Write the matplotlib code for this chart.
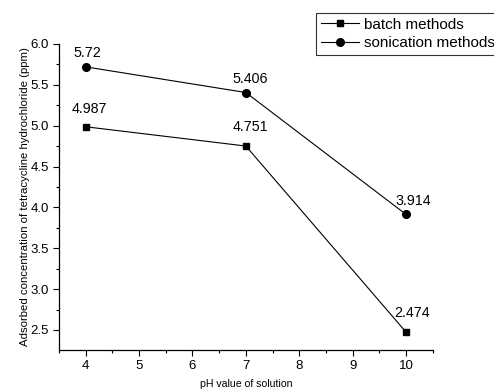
import matplotlib
matplotlib.use("Agg")
import matplotlib.pyplot as plt
from matplotlib.ticker import MultipleLocator

plt.rcParams["font.family"] = ["Liberation Sans", "DejaVu Sans"]

ph = [4, 7, 10]
batch = [4.987, 4.751, 2.474]
sonication = [5.72, 5.406, 3.914]
batch_labels = ["4.987", "4.751", "2.474"]
sonication_labels = ["5.72", "5.406", "3.914"]

fig = plt.figure(figsize=(4.94, 3.92), dpi=100)
ax = fig.add_axes([0.1194, 0.1071, 0.876 - 0.1194, 0.8878 - 0.1071])

ax.plot(ph, batch, color="black", lw=0.8, marker="s", ms=5, label="batch methods")
ax.plot(ph, sonication, color="black", lw=0.8, marker="o", ms=5.5, label="sonication methods")

# label offsets in points (dx, dy)
b_off = [(3, 8), (3, 9), (4, 9)]
s_off = [(1, 5), (3, 5), (5, 5)]
for x, y, t, o in zip(ph, batch, batch_labels, b_off):
    ax.annotate(t, (x, y), xytext=o, textcoords="offset points",
                ha="center", va="bottom", fontsize=10.3)
for x, y, t, o in zip(ph, sonication, sonication_labels, s_off):
    ax.annotate(t, (x, y), xytext=o, textcoords="offset points",
                ha="center", va="bottom", fontsize=10.3)

ax.set_xlim(3.5, 10.5)
ax.set_ylim(2.255, 6.0)
ax.xaxis.set_major_locator(MultipleLocator(1))
ax.xaxis.set_minor_locator(MultipleLocator(0.5))
ax.yaxis.set_minor_locator(MultipleLocator(0.25))
ax.set_yticks([2.5, 3.0, 3.5, 4.0, 4.5, 5.0, 5.5, 6.0])
ax.yaxis.set_major_formatter(plt.FormatStrFormatter("%.1f"))

for s in ["top", "right"]:
    ax.spines[s].set_visible(False)
for s in ["left", "bottom"]:
    ax.spines[s].set_linewidth(0.9)
ax.tick_params(which="major", direction="out", length=4.3, width=0.8, labelsize=9.5, pad=3)
ax.tick_params(which="minor", direction="out", length=2.3, width=0.8)

ax.set_xlabel("pH value of solution", fontsize=7.6, labelpad=5)
ax.set_ylabel("Adsorbed concentration of tetracycline hydrochloride (ppm)", fontsize=8.2, labelpad=0.5)

leg = fig.legend(loc="upper left", bbox_to_anchor=(316 / 494, 1 - 13 / 392),
                 fontsize=11, frameon=True, fancybox=False, edgecolor="black",
                 borderpad=0.3, handlelength=2.5, handletextpad=0.35,
                 labelspacing=0.3, borderaxespad=0)
leg.get_frame().set_linewidth(0.8)

fig.savefig("out.png", dpi=100)
